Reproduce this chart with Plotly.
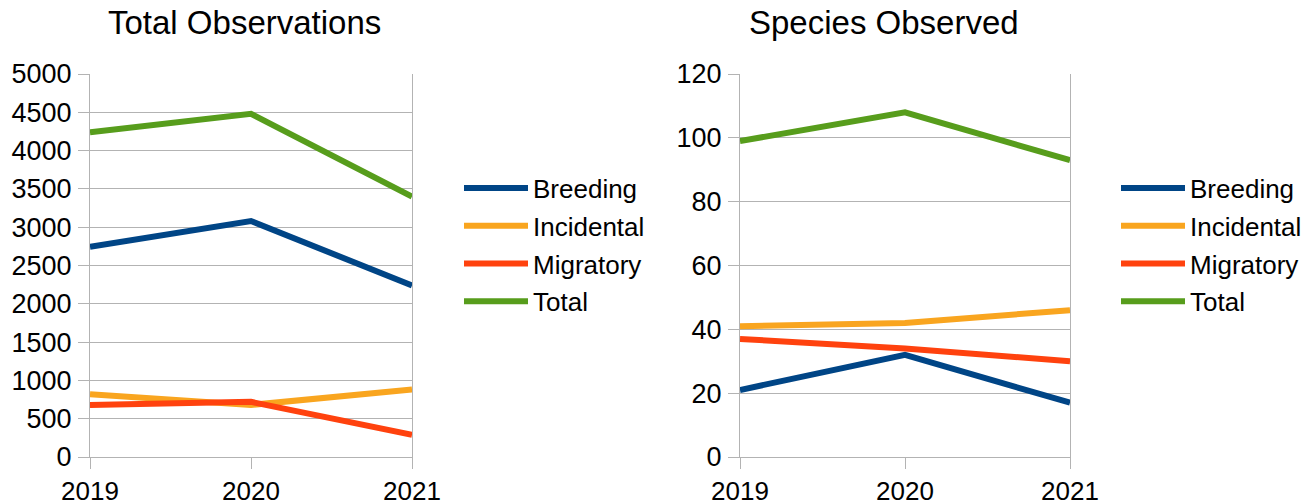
import plotly.graph_objects as go

# Survey years
years = [2019, 2020, 2021]
year_labels = ["2019", "2020", "2021"]

# Total observations per category
obs_breeding = [2745, 3080, 2240]
obs_incidental = [820, 680, 880]
obs_migratory = [680, 720, 290]
obs_total = [4240, 4480, 3400]

# Number of species observed per category
sp_breeding = [21, 32, 17]
sp_incidental = [41, 42, 46]
sp_migratory = [37, 34, 30]
sp_total = [99, 108, 93]

series_names = ["Breeding", "Incidental", "Migratory", "Total"]
series_colors = ["#004586", "#f9a51f", "#ff420e", "#579d1c"]

FONT = "Liberation Sans, Arial, sans-serif"
GRID = "#b3b3b3"

fig = go.Figure()

obs_series = [obs_breeding, obs_incidental, obs_migratory, obs_total]
sp_series = [sp_breeding, sp_incidental, sp_migratory, sp_total]

for name, color, vals in zip(series_names, series_colors, obs_series):
    fig.add_trace(go.Scatter(
        x=years, y=vals, name=name, mode="lines",
        line=dict(color=color, width=6),
        xaxis="x", yaxis="y", legend="legend", legendgroup="a" + name,
    ))

for name, color, vals in zip(series_names, series_colors, sp_series):
    fig.add_trace(go.Scatter(
        x=years, y=vals, name=name, mode="lines",
        line=dict(color=color, width=6),
        xaxis="x2", yaxis="y2", legend="legend2", legendgroup="b" + name,
    ))

W, H = 1314, 503
y_dom = [(H - 457) / H, (H - 74) / H]

common_x = dict(
    range=[2019, 2021], tickvals=years, ticktext=year_labels,
    showgrid=False, zeroline=False, showline=True, linecolor=GRID, linewidth=1,
    ticks="outside", ticklen=11, tickcolor=GRID, tickwidth=1, automargin=False,
    ticklabelstandoff=0, tickfont=dict(size=26, color="#000000", family=FONT),
)
common_y = dict(
    showgrid=True, gridcolor=GRID, gridwidth=1, zeroline=False,
    showline=True, linecolor=GRID, linewidth=1, mirror=True, automargin=False,
    ticks="outside", ticklen=11, tickcolor=GRID, tickwidth=1,
    ticklabelstandoff=1, tickfont=dict(size=27, color="#000000", family=FONT),
)

legend_common = dict(
    font=dict(size=26, color="#000000", family=FONT),
    traceorder="grouped", tracegroupgap=1, itemwidth=64,
    xanchor="left", yanchor="middle", bgcolor="rgba(0,0,0,0)",
)

fig.update_layout(
    width=W, height=H,
    margin=dict(l=0, r=0, t=0, b=0, autoexpand=False),
    paper_bgcolor="#ffffff", plot_bgcolor="#ffffff",
    font=dict(family=FONT, color="#000000"),
    xaxis=dict(domain=[90 / W, 412 / W], anchor="y", **common_x),
    yaxis=dict(domain=y_dom, anchor="x", range=[0, 5000], dtick=500, **common_y),
    xaxis2=dict(domain=[740 / W, 1070 / W], anchor="y2", **common_x),
    yaxis2=dict(domain=y_dom, anchor="x2", range=[0, 120], dtick=20, **common_y),
    legend=dict(x=459 / W, y=(H - 245) / H, **legend_common),
    legend2=dict(x=1116 / W, y=(H - 245) / H, **legend_common),
    showlegend=True,
    annotations=[
        dict(text="Total Observations", x=244 / W, y=(H - 22) / H,
             xref="paper", yref="paper", xanchor="center", yanchor="middle",
             showarrow=False, font=dict(size=33, color="#000000", family=FONT)),
        dict(text="Species Observed", x=884 / W, y=(H - 22) / H,
             xref="paper", yref="paper", xanchor="center", yanchor="middle",
             showarrow=False, font=dict(size=33, color="#000000", family=FONT)),
    ],
)

fig.write_html("out.html")
